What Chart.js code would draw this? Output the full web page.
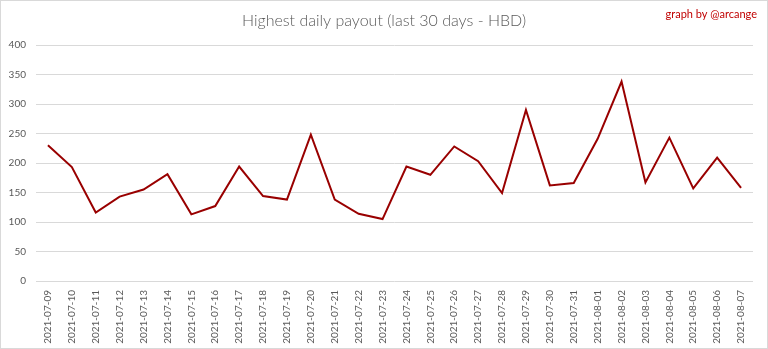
<!DOCTYPE html>
<html>
<head>
<meta charset="utf-8">
<script src="https://cdn.jsdelivr.net/npm/chart.js@4/dist/chart.umd.min.js"></script>
<style>
html,body{margin:0;padding:0;background:#fff;}
#wrap{width:768px;height:349px;position:relative;}
</style>
</head>
<body>
<div id="wrap"><canvas id="c" width="768" height="349"></canvas></div>
<script>
const categories = ["2021-07-09","2021-07-10","2021-07-11","2021-07-12","2021-07-13","2021-07-14","2021-07-15","2021-07-16","2021-07-17","2021-07-18","2021-07-19","2021-07-20","2021-07-21","2021-07-22","2021-07-23","2021-07-24","2021-07-25","2021-07-26","2021-07-27","2021-07-28","2021-07-29","2021-07-30","2021-07-31","2021-08-01","2021-08-02","2021-08-03","2021-08-04","2021-08-05","2021-08-06","2021-08-07"];
const payouts = [230,193,116,143,155,181,113,127,194,144,138,248,138,114,105,194,180,228,203,149,290,162,166,241,338,167,243,157,209,158];
const yTicks = [0,50,100,150,200,250,300,350,400];
const titleText = "Highest daily payout (last 30 days - HBD)";
const creditText = "graph by @arcange";

const AREA = {left:36, right:753, top:45, bottom:281};
const PAD = {left:4, right:768-AREA.right, top:AREA.top, bottom:4};

const decor = {
  id:'decor',
  beforeDraw(chart){
    const ctx = chart.ctx;
    ctx.save();
    ctx.fillStyle = '#fff';
    ctx.fillRect(0,0,chart.width,chart.height);
    ctx.restore();
  },
  afterDraw(chart){
    const ctx = chart.ctx;
    ctx.save();
    ctx.strokeStyle = '#d9d9d9';
    ctx.lineWidth = 1;
    ctx.strokeRect(0.5,0.5,chart.width-1,chart.height-1);
    ctx.fillStyle = '#595959';
    ctx.font = '300 16px Lato';
    ctx.textAlign = 'center';
    ctx.textBaseline = 'middle';
    ctx.fillText(titleText, 384, 21);
    ctx.fillStyle = '#c00000';
    ctx.font = '11px Lato';
    ctx.textAlign = 'right';
    ctx.fillText(creditText, 757, 14);
    ctx.restore();
  }
};

new Chart(document.getElementById('c'), {
  type:'line',
  data:{
    labels:categories,
    datasets:[{
      data:payouts,
      borderColor:'#990000',
      backgroundColor:'#990000',
      borderWidth:2,
      pointRadius:0,
      tension:0,
      fill:false
    }]
  },
  options:{
    responsive:false,
    animation:false,
    layout:{padding:PAD},
    plugins:{legend:{display:false},title:{display:false},tooltip:{enabled:false}},
    scales:{
      x:{
        offset:true,
        grid:{display:false,drawTicks:false},
        border:{display:false},
        ticks:{
          autoSkip:false,
          minRotation:90,maxRotation:90,
          padding:9,
          color:'#595959',
          font:{family:'Lato',size:10}
        },
        afterFit(s){ s.height = 349 - AREA.bottom - PAD.bottom; }
      },
      y:{
        min:0,max:400,
        afterBuildTicks(s){ s.ticks = yTicks.map(v=>({value:v})); },
        grid:{color:'#d9d9d9',lineWidth:1,drawTicks:false},
        border:{display:false},
        ticks:{
          padding:10,
          color:'#595959',
          font:{family:'Lato',size:10}
        },
        afterFit(s){ s.width = AREA.left - PAD.left; }
      }
    }
  },
  plugins:[decor]
});
</script>
</body>
</html>
